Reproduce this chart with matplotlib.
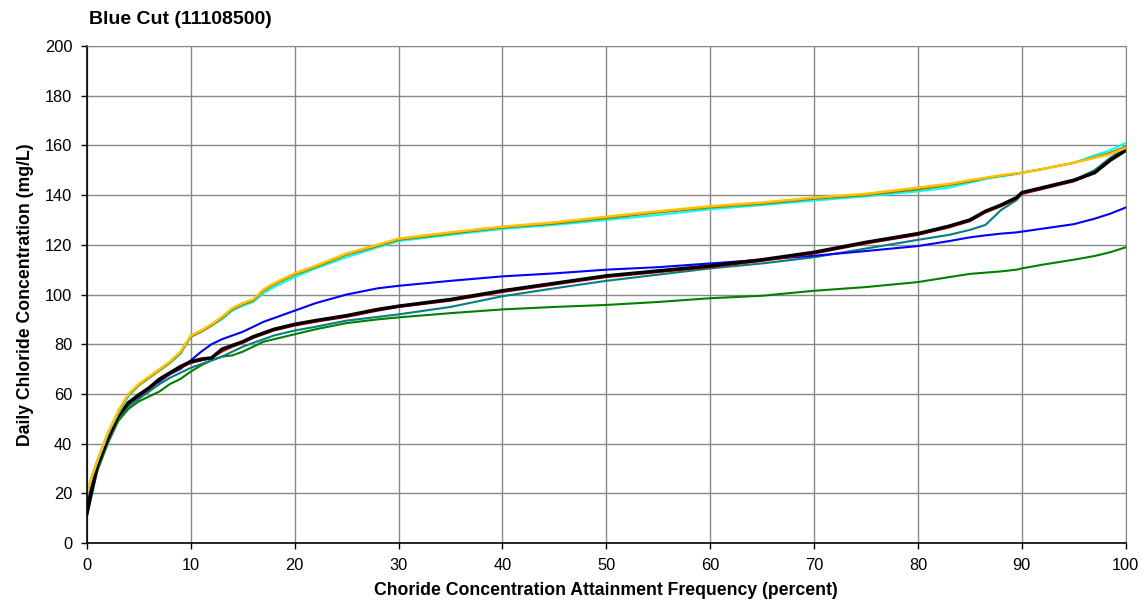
import matplotlib
matplotlib.use("Agg")
import matplotlib.pyplot as plt

plt.rcParams['font.family'] = ['Liberation Sans', 'DejaVu Sans']

# ────────────────────────────────────────────────
#  Data
# ────────────────────────────────────────────────
freq = [0, 0.5, 1, 2, 3, 4, 5, 6, 7, 8, 9, 10, 11, 12, 13, 14, 15, 16, 17, 18,
        20, 22, 25, 28, 30, 35, 40, 45, 50, 55, 60, 65, 70, 75, 80, 83, 85,
        86.5, 88, 89.5, 90, 92, 95, 97, 98.5, 100]

gold = [20, 27, 33, 44, 53, 60, 64, 67, 70, 73, 77, 83.5, 85.5, 88, 91, 94.5, 96.5, 98, 102, 104.5,
        108.5, 111.5, 116.5, 120, 122.5, 125, 127.3, 129, 131.3, 133.5, 135.5, 137, 139, 140.5, 143, 144.5, 146,
        147, 148, 148.8, 149, 150.5, 153, 155, 156.5, 159]
olive = [20, 27, 33, 44, 52.5, 59.5, 63.5, 66.5, 69.5, 72.5, 76.5, 83, 85, 87.5, 90.5, 94, 96, 97.5, 101.5, 104,
         108, 111, 116, 119.5, 122, 124.5, 126.9, 128.5, 130.7, 133, 135, 136.5, 138.5, 140, 142.3, 144, 145.5,
         146.8, 147.8, 148.6, 149, 150.5, 153, 155.3, 157, 159.5]
cyan = [20, 27, 33, 44, 52, 59, 63.5, 66.5, 69.5, 72.5, 76, 83, 85, 87.5, 90, 93.5, 95.5, 97, 100.5, 103,
        107, 110.5, 115, 119, 121.5, 124, 126.4, 128, 130, 132, 134.3, 136, 137.8, 139.5, 141.5, 143, 145,
        146.5, 147.5, 148.5, 149, 150.5, 153, 156, 158, 161]
blue = [15, 24, 31, 43, 51, 56.5, 60, 62.5, 65, 68, 70, 73.5, 77, 80, 82, 83.5, 85, 87, 89, 90.5,
        93.5, 96.5, 100, 102.5, 103.5, 105.5, 107.3, 108.5, 110, 111, 112.5, 114, 115.6, 117.5, 119.5, 121.5, 123,
        123.8, 124.5, 125, 125.3, 126.5, 128.3, 130.5, 132.5, 135]
black = [12, 22, 31, 42, 51, 56.5, 59.5, 62.5, 66, 68.5, 71, 73, 74, 74.5, 78, 79.5, 81, 83, 84.5, 86,
         88, 89.5, 91.5, 94, 95.3, 98, 101.5, 104.5, 107.5, 109.5, 111.5, 114, 117, 121, 124.5, 127.5, 130,
         133.5, 136, 139, 141, 143, 146, 149, 154, 158]
red = [12, 22, 31, 42, 51, 56, 59, 62, 65.5, 68, 70.5, 72.5, 73.5, 74.5, 77, 79, 80.5, 82.5, 84, 85.5,
       87.5, 89, 91, 93.5, 95, 97.5, 101, 104, 107, 109, 111, 113.5, 116.5, 120.5, 124, 127, 129.5,
       133, 135.5, 138.5, 140.5, 142.5, 145.5, 149, 154, 158.5]
purple = [12, 22, 31, 42, 51, 56, 59, 62, 65.5, 68, 70.5, 72.5, 73.5, 74.5, 77.5, 79.3, 80.8, 82.8, 84.3, 85.8,
          87.8, 89.3, 91.3, 93.8, 95.2, 97.8, 101.3, 104.3, 107.3, 109.3, 111.3, 113.8, 116.8, 120.8, 124.2, 127.2, 129.8,
          133.2, 135.8, 138.8, 140.8, 142.8, 145.8, 149, 154, 158.3]
teal = [12, 21, 30, 41, 50, 55, 58, 61, 64, 66.5, 68.5, 70.5, 72, 73.5, 75, 77, 79, 80.5, 82, 83.5,
        85.5, 87, 89.5, 91, 92, 95, 99.3, 102.5, 105.5, 108, 110.5, 112.5, 115, 118.5, 122, 124, 126,
        128, 134, 138, 140.5, 142.5, 146, 150, 155, 159]
green = [11, 20, 29, 40, 49, 54, 57, 59, 61, 64, 66, 69, 71.5, 73.5, 75, 75.5, 77, 79, 81, 82,
         84, 86, 88.5, 90, 90.8, 92.5, 94, 95, 95.8, 97, 98.5, 99.5, 101.5, 103, 105, 107, 108.3,
         108.8, 109.3, 110, 110.5, 112, 114, 115.5, 117, 119]

x_ticks = list(range(0, 101, 10))
y_ticks = list(range(0, 201, 20))

# ────────────────────────────────────────────────
fig = plt.figure(figsize=(11.44, 6.16), dpi=100)
ax = fig.add_axes([0.076, 0.1185, 0.908, 0.8068])

series = [
    (green,  '#008000', 1.5),
    (teal,   '#008080', 1.5),
    (blue,   '#0000FF', 1.5),
    (purple, '#800080', 1.5),
    (red,    '#FF0000', 1.5),
    (black,  '#000000', 2.5),
    (cyan,   '#00FFFF', 1.5),
    (olive,  '#808000', 1.5),
    (gold,   '#FFC000', 1.8),
]
for vals, col, lw in series:
    ax.plot(freq, vals, color=col, linewidth=lw, solid_joinstyle='round')

ax.set_xlim(0, 100)
ax.set_ylim(0, 200)
ax.set_xticks(x_ticks)
ax.set_yticks(y_ticks)
ax.tick_params(labelsize=11.8, direction='out', length=4.5, width=1, color='black')
ax.tick_params(axis='y', pad=6)
ax.tick_params(axis='x', pad=6)
ax.grid(True, color='#888888', linewidth=1)
ax.set_axisbelow(True)

for side in ['top', 'right']:
    ax.spines[side].set_color('#888888')
for side in ['left', 'bottom']:
    ax.spines[side].set_color('black')
    ax.spines[side].set_linewidth(1.2)

ax.set_xlabel('Choride Concentration Attainment Frequency (percent)',
              fontsize=12.7, fontweight='bold', labelpad=7)
ax.set_ylabel('Daily Chloride Concentration (mg/L)',
              fontsize=12.7, fontweight='bold', labelpad=8)

fig.text(0.078, 0.968, 'Blue Cut (11108500)', fontsize=14, fontweight='bold',
         ha='left', va='center')

fig.savefig('out.png', dpi=100)
